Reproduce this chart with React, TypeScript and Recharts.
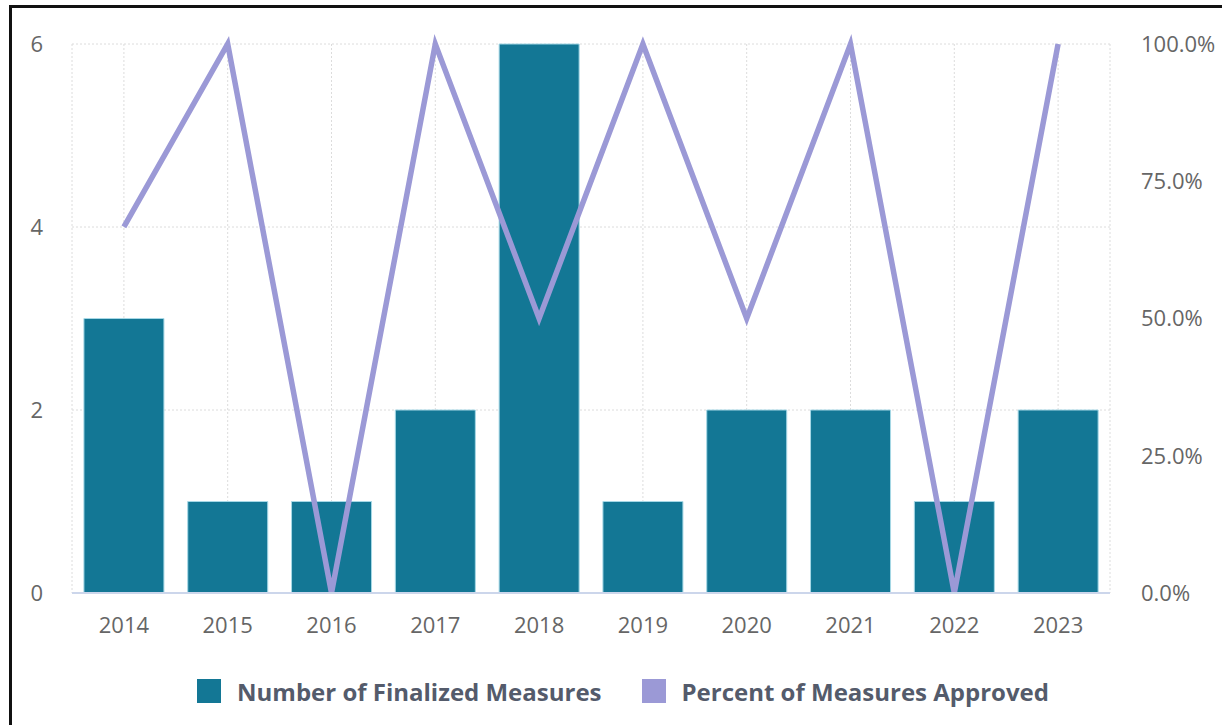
import React from 'react';
import { ComposedChart, Bar, Line, XAxis, YAxis, CartesianGrid, Legend } from 'recharts';

const years = ['2014', '2015', '2016', '2017', '2018', '2019', '2020', '2021', '2022', '2023'];
const finalizedMeasures = [3, 1, 1, 2, 6, 1, 2, 2, 1, 2];
const percentApproved = [66.7, 100, 0, 100, 50, 100, 50, 100, 0, 100];
const countTicks = [0, 2, 4, 6];
const percentTicks = [0, 25, 50, 75, 100];

const data = years.map((year, i) => ({
  year,
  finalized: finalizedMeasures[i],
  approved: percentApproved[i],
}));

const FONT = '"Open Sans", sans-serif';

const renderLegend = (props: any) => {
  const { payload } = props;
  return (
    <div
      style={{
        display: 'flex',
        justifyContent: 'center',
        alignItems: 'center',
        height: 30,
        paddingLeft: 24,
        fontFamily: FONT,
      }}
    >
      {payload.map((entry: any, idx: number) => (
        <div key={entry.value} style={{ display: 'flex', alignItems: 'center', marginLeft: idx === 0 ? 0 : 40 }}>
          <span style={{ width: 24, height: 24, background: entry.color, display: 'inline-block', marginRight: 16 }} />
          <span style={{ fontSize: 24, fontWeight: 700, color: '#545b6b' }}>{entry.value}</span>
        </div>
      ))}
    </div>
  );
};

const App: React.FC = () => {
  return (
    <div style={{ position: 'absolute', left: 0, top: 0, width: 1222, height: 725, background: '#fff', overflow: 'hidden' }}>
      <div
        style={{
          position: 'absolute',
          left: 9,
          top: 5,
          width: 1210,
          height: 740,
          borderLeft: '3px solid #111',
          borderTop: '3px solid #111',
        }}
      />
      <div style={{ position: 'absolute', left: 0, top: 0 }}>
        <ComposedChart
          width={1222}
          height={725}
          data={data}
          margin={{ top: 44, right: 0, left: 0, bottom: 62 }}
          barCategoryGap="11.5%"
        >
          <CartesianGrid yAxisId="left" stroke="#dcdcdc" strokeDasharray="2 2" />
          <XAxis
            dataKey="year"
            height={40}
            tickLine={false}
            tickSize={0}
            tickMargin={24}
            axisLine={{ stroke: '#ccd6eb', strokeWidth: 2 }}
            tick={{ fill: '#666666', fontSize: 22, fontFamily: FONT }}
          />
          <YAxis
            yAxisId="left"
            width={72}
            domain={[0, 6]}
            ticks={countTicks}
            axisLine={false}
            tickLine={false}
            tickSize={0}
            tickMargin={29}
            tick={{ fill: '#666666', fontSize: 22, fontFamily: FONT }}
          />
          <YAxis
            yAxisId="right"
            orientation="right"
            width={112}
            domain={[0, 100]}
            ticks={percentTicks}
            axisLine={false}
            tickLine={false}
            tickSize={0}
            tickMargin={31}
            tickFormatter={(v: number) => `${v.toFixed(1)}%`}
            tick={{ fill: '#666666', fontSize: 22, fontFamily: FONT }}
          />
          <Legend content={renderLegend} wrapperStyle={{ top: 676, left: 0, width: 1222 }} />
          <Bar
            yAxisId="left"
            dataKey="finalized"
            name="Number of Finalized Measures"
            fill="#137795"
            stroke="#a6d8e6"
            strokeWidth={1}
            isAnimationActive={false}
          />
          <Line
            yAxisId="right"
            type="linear"
            dataKey="approved"
            name="Percent of Measures Approved"
            stroke="#9b99d6"
            strokeWidth={5.5}
            dot={false}
            activeDot={false}
            isAnimationActive={false}
          />
        </ComposedChart>
      </div>
    </div>
  );
};

export default App;
